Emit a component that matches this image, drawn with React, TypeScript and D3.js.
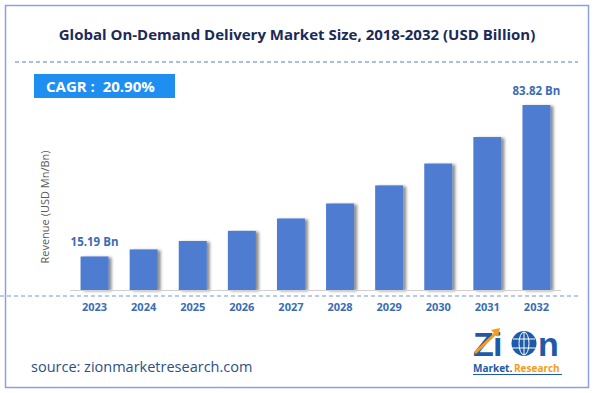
import React, { useRef, useEffect } from 'react';
import * as d3 from 'd3';

const years = ['2023', '2024', '2025', '2026', '2027', '2028', '2029', '2030', '2031', '2032'];
const revenue = [15.19, 18.4, 22.2, 26.8, 32.4, 39.2, 47.4, 57.3, 69.3, 83.82];
const valueLabels = ['15.19 Bn', '', '', '', '', '', '', '', '', '83.82 Bn'];
const title = 'Global On-Demand Delivery Market Size, 2018-2032 (USD Billion)';
const cagr = 'CAGR :  20.90%';
const yLabel = 'Revenue (USD Mn/Bn)';
const source = 'source: zionmarketresearch.com';

const App = () => {
  const svgRef = useRef<SVGSVGElement>(null);

  useEffect(() => {
    const W = 594;
    const H = 393;
    const font = 'Open Sans, sans-serif';
    const svg = d3.select(svgRef.current);
    svg.selectAll('*').remove();

    const defs = svg.append('defs');
    const f = defs.append('filter').attr('id', 'shadow').attr('x', '-20%').attr('y', '-10%').attr('width', '160%').attr('height', '130%');
    f.append('feDropShadow')
      .attr('dx', 3)
      .attr('dy', 1)
      .attr('stdDeviation', 1.6)
      .attr('flood-color', '#000')
      .attr('flood-opacity', 0.45);

    svg.append('rect').attr('width', W).attr('height', H).attr('fill', '#fff');
    svg
      .append('rect')
      .attr('x', 5.5)
      .attr('y', 5.5)
      .attr('width', W - 11)
      .attr('height', H - 11)
      .attr('fill', 'none')
      .attr('stroke', '#8c9ee6')
      .attr('stroke-width', 1.5);

    svg
      .append('text')
      .attr('x', 297)
      .attr('y', 40)
      .attr('text-anchor', 'middle')
      .attr('font-family', font)
      .attr('font-size', 15)
      .attr('font-weight', 'bold')
      .attr('fill', '#1b2a58')
      .text(title);

    svg
      .append('line')
      .attr('x1', 15)
      .attr('x2', 578)
      .attr('y1', 62)
      .attr('y2', 62)
      .attr('stroke', '#5b7fc2')
      .attr('stroke-dasharray', '4,3');

    svg.append('rect').attr('x', 34).attr('y', 74).attr('width', 141).attr('height', 24).attr('fill', '#1f8ef1');
    svg
      .append('text')
      .attr('x', 46)
      .attr('y', 91.5)
      .attr('font-family', font)
      .attr('font-size', 15)
      .attr('font-weight', 'bold')
      .attr('fill', '#fff')
      .style('white-space', 'pre')
      .text(cagr);

    const x = d3.scaleBand<string>().domain(years).range([70, 561]).paddingInner(0.43).paddingOuter(0.215);
    const y = d3.scaleLinear().domain([0, 83.82]).range([290, 105]);

    svg
      .append('g')
      .selectAll('rect')
      .data(revenue)
      .join('rect')
      .attr('x', (_, i) => x(years[i])!)
      .attr('y', (d) => y(d))
      .attr('width', x.bandwidth())
      .attr('height', (d) => y(0) - y(d))
      .attr('fill', '#4d7cd1')
      .attr('filter', 'url(#shadow)');

    svg
      .append('line')
      .attr('x1', 70)
      .attr('x2', 561)
      .attr('y1', y(0) + 0.5)
      .attr('y2', y(0) + 0.5)
      .attr('stroke', '#d0d0d0');

    svg
      .append('line')
      .attr('x1', 0)
      .attr('x2', 578)
      .attr('y1', 296)
      .attr('y2', 296)
      .attr('stroke', '#6f95d6')
      .attr('stroke-dasharray', '4,3');

    svg
      .append('g')
      .selectAll('text')
      .data(years)
      .join('text')
      .attr('x', (d) => x(d)! + x.bandwidth() / 2)
      .attr('y', 311)
      .attr('text-anchor', 'middle')
      .attr('font-family', font)
      .attr('font-size', 11)
      .attr('font-weight', 'bold')
      .attr('fill', '#3a6cb4')
      .text((d) => d);

    svg
      .append('g')
      .selectAll('text')
      .data(revenue)
      .join('text')
      .attr('x', (_, i) => x(years[i])! + x.bandwidth() / 2)
      .attr('y', (d) => y(d) - 10)
      .attr('text-anchor', 'middle')
      .attr('font-family', font)
      .attr('font-size', 11.5)
      .attr('font-weight', 'bold')
      .attr('fill', '#3a6cb4')
      .text((_, i) => valueLabels[i]);

    svg
      .append('text')
      .attr('transform', 'rotate(-90)')
      .attr('x', -207)
      .attr('y', 49)
      .attr('text-anchor', 'middle')
      .attr('font-family', font)
      .attr('font-size', 11)
      .attr('fill', '#595959')
      .text(yLabel);

    svg
      .append('text')
      .attr('x', 31)
      .attr('y', 372)
      .attr('font-family', font)
      .attr('font-size', 14.5)
      .attr('fill', '#2b4f86')
      .text(source);

    // logo
    const blue = '#1d5aa8';
    const orange = '#f39c1e';
    const logo = svg.append('g').attr('transform', 'translate(473,331)');
    const big = (t: string, lx: number) =>
      logo
        .append('text')
        .attr('x', lx)
        .attr('y', 25)
        .attr('font-family', 'Liberation Sans, sans-serif')
        .attr('font-size', 34)
        .attr('font-weight', 'bold')
        .attr('fill', blue)
        .text(t);
    big('Z', 0);
    big('i', 20);
    big('n', 65);
    logo.append('circle').attr('cx', 51).attr('cy', 12.5).attr('r', 12.5).attr('fill', blue);
    logo
      .append('ellipse')
      .attr('cx', 51)
      .attr('cy', 12.5)
      .attr('rx', 5)
      .attr('ry', 11.5)
      .attr('fill', 'none')
      .attr('stroke', '#fff')
      .attr('stroke-width', 1);
    logo
      .append('path')
      .attr('d', 'M40,8 H62 M39,17 H63 M51,1 V24')
      .attr('stroke', '#fff')
      .attr('stroke-width', 1);
    logo
      .append('path')
      .attr('d', 'M2,22 L23,2')
      .attr('stroke', orange)
      .attr('stroke-width', 3)
      .attr('fill', 'none');
    logo.append('path').attr('d', 'M18,-1 L27,-3 L25,6 Z').attr('fill', orange);
    logo
      .append('text')
      .attr('x', 0)
      .attr('y', 41)
      .attr('font-family', 'Open Sans, sans-serif')
      .attr('font-size', 10)
      .attr('font-weight', 'bold')
      .attr('fill', blue)
      .text('Market.');
    logo
      .append('text')
      .attr('x', 41)
      .attr('y', 41)
      .attr('font-family', 'Open Sans, sans-serif')
      .attr('font-size', 10)
      .attr('font-weight', 'bold')
      .attr('fill', orange)
      .text('Research');
    logo
      .append('line')
      .attr('x1', 0)
      .attr('x2', 89)
      .attr('y1', 43.5)
      .attr('y2', 43.5)
      .attr('stroke', blue);
  }, []);

  return <svg ref={svgRef} width={594} height={393} style={{ display: 'block', position: 'absolute', left: 0, top: 0 }} />;
};

export default App;
